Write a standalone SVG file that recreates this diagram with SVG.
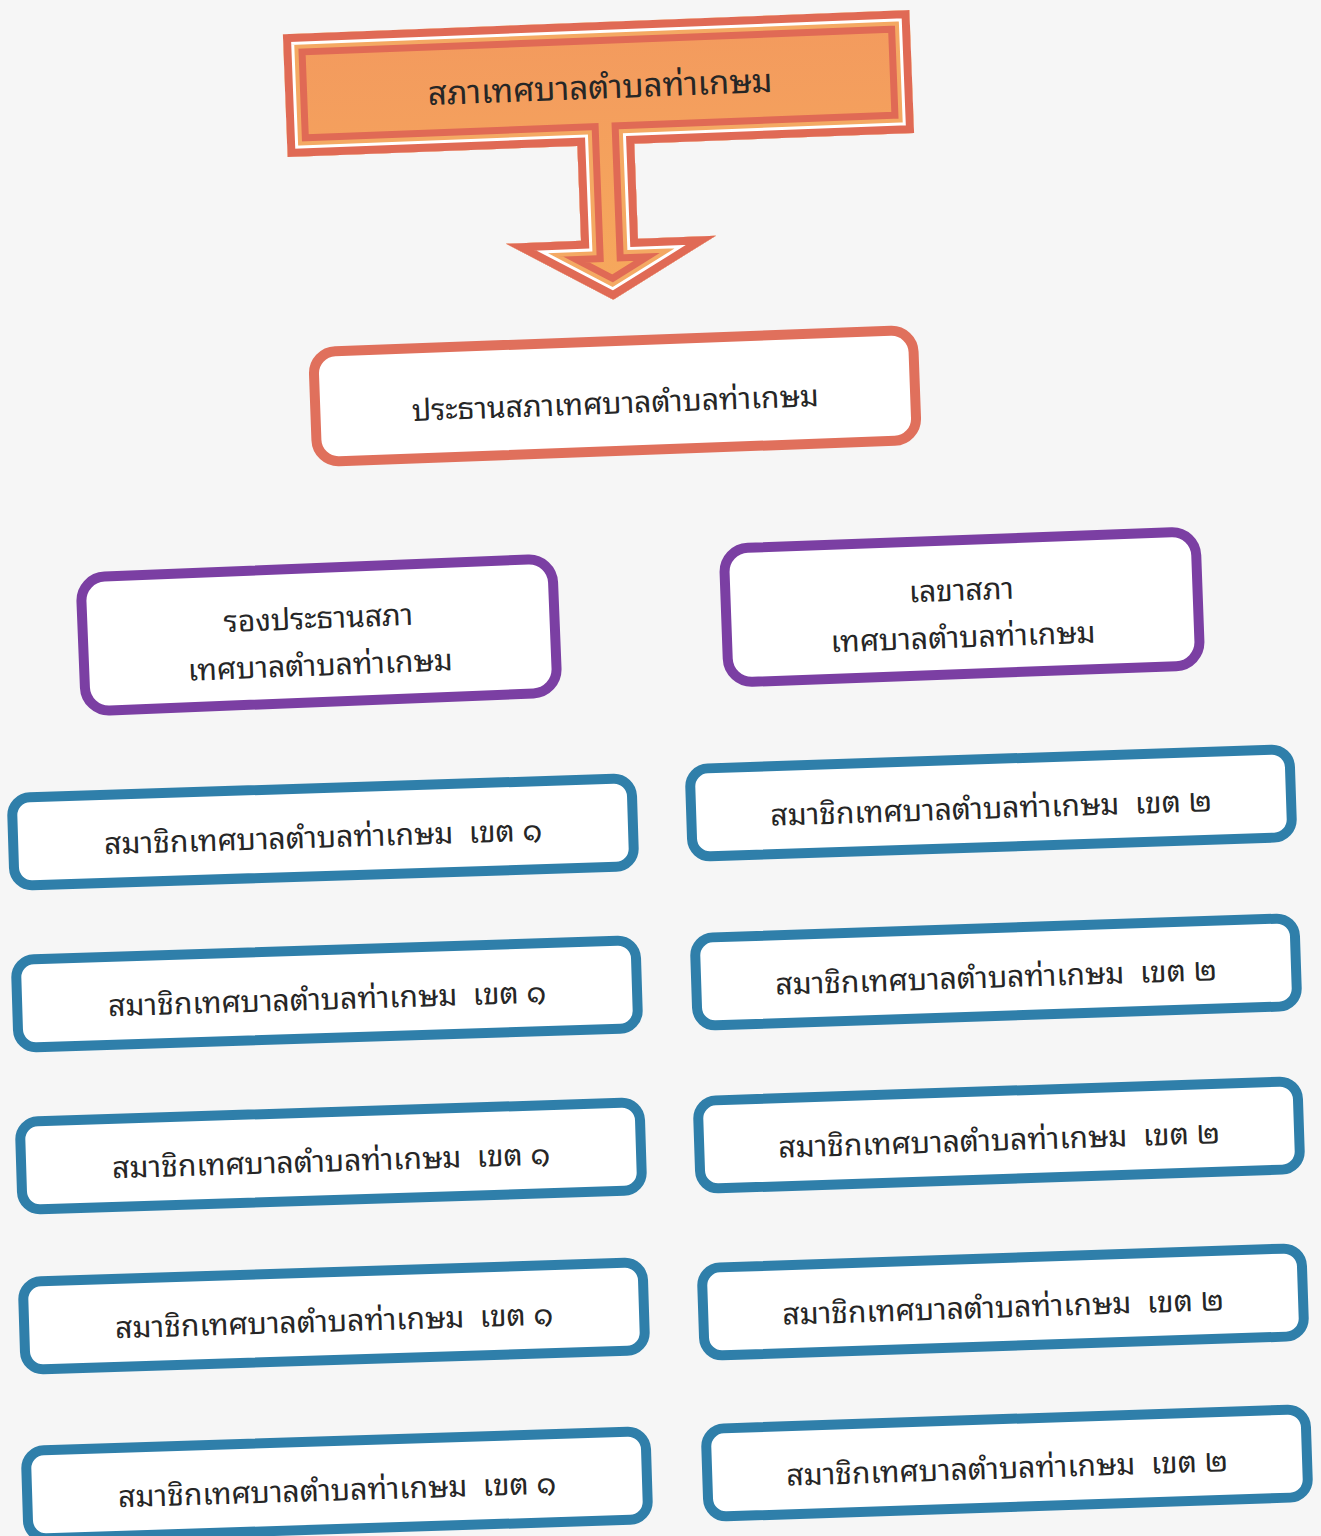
<svg xmlns="http://www.w3.org/2000/svg" width="1321" height="1536" viewBox="0 0 1321 1536">
<style>
.t{font-family:"Noto Sans Thai Looped","Loma","Garuda","Tahoma","Noto Sans Thai","Noto Sans","DejaVu Sans",sans-serif;fill:#262626;text-anchor:middle;dominant-baseline:central;white-space:pre}
.blue{fill:#ffffff;stroke:#2F7FAA;stroke-width:10}
.purple{fill:#ffffff;stroke:#7B3FA3;stroke-width:10}
.red{fill:#ffffff;stroke:#E0705C;stroke-width:10}
</style>
<defs>
<path id="tshape" d="M285,22 H912 V145 H632 V240 H710 L605,300 L500,240 H575 V145 H285 Z"/>
<clipPath id="tclip"><use href="#tshape"/></clipPath>
<linearGradient id="og" x1="0" y1="0" x2="0" y2="1">
<stop offset="0" stop-color="#F39A5E"/><stop offset="1" stop-color="#F6A95C"/>
</linearGradient>
</defs>
<rect width="1321" height="1536" fill="#F6F6F6"/>
<g id="top" transform="rotate(-2.2 600 84)">
<use href="#tshape" fill="url(#og)"/>
<g clip-path="url(#tclip)" fill="none" stroke-linejoin="miter">
<use href="#tshape" stroke="#E06A55" stroke-width="44"/>
<use href="#tshape" stroke="#F4A963" stroke-width="30"/>
<use href="#tshape" stroke="#FFFFFF" stroke-width="22"/>
<use href="#tshape" stroke="#E06A55" stroke-width="16"/>
</g>
<text class="t" x="600" y="84" font-size="33">สภาเทศบาลตำบลท่าเกษม</text>
</g>
<g id="chairman" transform="rotate(-2.1 615 396)">
<rect class="red" x="315" y="341" width="600" height="110" rx="22"/>
<text class="t" x="615" y="400" font-size="30">ประธานสภาเทศบาลตำบลท่าเกษม</text>
</g>
<g id="vice" transform="rotate(-2.3 319 635)">
<rect class="purple" x="83" y="568" width="472" height="134" rx="24"/>
<text class="t" x="319" y="615" font-size="30">รองประธานสภา</text>
<text class="t" x="319" y="662" font-size="30">เทศบาลตำบลท่าเกษม</text>
</g>
<g id="secretary" transform="rotate(-2.1 962 607)">
<rect class="purple" x="726" y="540" width="472" height="134" rx="24"/>
<text class="t" x="962" y="587" font-size="30">เลขาสภา</text>
<text class="t" x="962" y="634" font-size="30">เทศบาลตำบลท่าเกษม</text>
</g>
<g id="l1" transform="rotate(-1.8 323 832)"><rect class="blue" x="13" y="788" width="620" height="88" rx="18"/><text class="t" x="323" y="834" font-size="30" xml:space="preserve">สมาชิกเทศบาลตำบลท่าเกษม  เขต ๑</text></g>
<g id="l2" transform="rotate(-1.8 327 994)"><rect class="blue" x="17" y="950" width="620" height="88" rx="18"/><text class="t" x="327" y="996" font-size="30" xml:space="preserve">สมาชิกเทศบาลตำบลท่าเกษม  เขต ๑</text></g>
<g id="l3" transform="rotate(-1.8 331 1156)"><rect class="blue" x="21" y="1112" width="620" height="88" rx="18"/><text class="t" x="331" y="1158" font-size="30" xml:space="preserve">สมาชิกเทศบาลตำบลท่าเกษม  เขต ๑</text></g>
<g id="l4" transform="rotate(-1.8 334 1316)"><rect class="blue" x="24" y="1272" width="620" height="88" rx="18"/><text class="t" x="334" y="1318" font-size="30" xml:space="preserve">สมาชิกเทศบาลตำบลท่าเกษม  เขต ๑</text></g>
<g id="l5" transform="rotate(-1.8 337 1485)"><rect class="blue" x="27" y="1441" width="620" height="88" rx="18"/><text class="t" x="337" y="1487" font-size="30" xml:space="preserve">สมาชิกเทศบาลตำบลท่าเกษม  เขต ๑</text></g>
<g id="r1" transform="rotate(-1.9 991 803)"><rect class="blue" x="691" y="759" width="600" height="88" rx="18"/><text class="t" x="991" y="805" font-size="30" xml:space="preserve">สมาชิกเทศบาลตำบลท่าเกษม  เขต ๒</text></g>
<g id="r2" transform="rotate(-1.9 996 972)"><rect class="blue" x="696" y="928" width="600" height="88" rx="18"/><text class="t" x="996" y="974" font-size="30" xml:space="preserve">สมาชิกเทศบาลตำบลท่าเกษม  เขต ๒</text></g>
<g id="r3" transform="rotate(-1.9 999 1135)"><rect class="blue" x="699" y="1091" width="600" height="88" rx="18"/><text class="t" x="999" y="1137" font-size="30" xml:space="preserve">สมาชิกเทศบาลตำบลท่าเกษม  เขต ๒</text></g>
<g id="r4" transform="rotate(-1.9 1003 1302)"><rect class="blue" x="703" y="1258" width="600" height="88" rx="18"/><text class="t" x="1003" y="1304" font-size="30" xml:space="preserve">สมาชิกเทศบาลตำบลท่าเกษม  เขต ๒</text></g>
<g id="r5" transform="rotate(-1.9 1007 1463)"><rect class="blue" x="707" y="1419" width="600" height="88" rx="18"/><text class="t" x="1007" y="1465" font-size="30" xml:space="preserve">สมาชิกเทศบาลตำบลท่าเกษม  เขต ๒</text></g>
<g id="connectors"></g>
</svg>
